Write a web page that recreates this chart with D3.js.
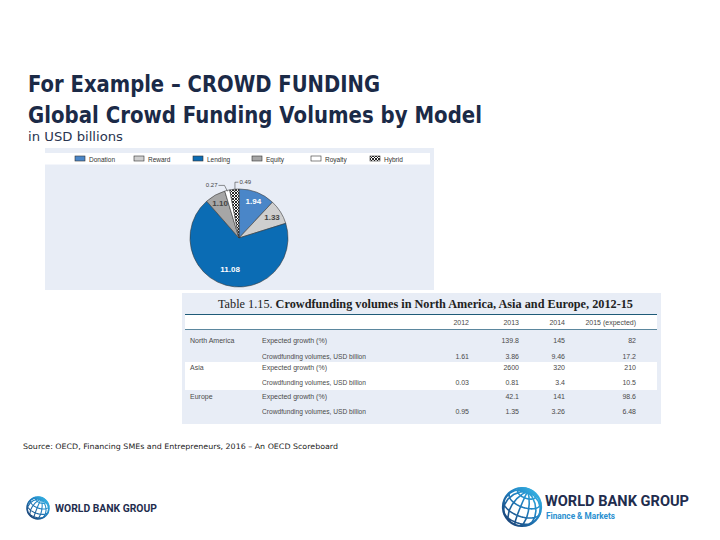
<!DOCTYPE html>
<html>
<head>
<meta charset="utf-8">
<script src="https://cdn.jsdelivr.net/npm/d3@7"></script>
<style>
  html, body { margin: 0; padding: 0; background: #ffffff; }
  svg { display: block; }
</style>
</head>
<body>
<svg id="chart" width="720" height="540"></svg>
<script>
// ---------- DATA ----------
const titleLines = ["For Example – CROWD FUNDING", "Global Crowd Funding Volumes by Model"];
const subtitle = "in USD billions";
const models = ["Donation", "Reward", "Lending", "Equity", "Royalty", "Hybrid"];
const modelVolumes = [1.94, 1.33, 11.08, 1.10, 0.27, 0.49];
const modelLabels = ["1.94", "1.33", "11.08", "1.10", "0.27", "0.49"];

const tableTitlePlain = "Table 1.15. ";
const tableTitleBold = "Crowdfunding volumes in North America, Asia and Europe, 2012-15";
const years = ["2012", "2013", "2014", "2015 (expected)"];
const regions = ["North America", "Asia", "Europe"];
const measures = ["Expected growth (%)", "Crowdfunding volumes, USD billion"];
const growthValues = [
  ["", "139.8", "145", "82"],
  ["", "2600", "320", "210"],
  ["", "42.1", "141", "98.6"]
];
const volumeValues = [
  ["1.61", "3.86", "9.46", "17.2"],
  ["0.03", "0.81", "3.4", "10.5"],
  ["0.95", "1.35", "3.26", "6.48"]
];
const sourceText = "Source: OECD, Financing SMEs and Entrepreneurs, 2016 – An OECD Scoreboard";

// ---------- STYLE ----------
const navy = "#1b2a47";
const sliceFill = {
  Donation: "#4a86c8", Reward: "#cfcfcf", Lending: "#0b6cb4",
  Equity: "#a6a6a6", Royalty: "#ffffff", Hybrid: "url(#hatch)"
};

const svg = d3.select("#chart");
const defs = svg.append("defs");

// crosshatch pattern
const pat = defs.append("pattern").attr("id", "hatch").attr("patternUnits", "userSpaceOnUse")
  .attr("width", 3).attr("height", 3);
pat.append("rect").attr("width", 3).attr("height", 3).attr("fill", "#fff");
pat.append("path").attr("d", "M0,0 L3,3 M3,0 L0,3").attr("stroke", "#111").attr("stroke-width", 0.9);

// globe gradient
const grad = defs.append("linearGradient").attr("id", "globeGrad")
  .attr("x1", "0%").attr("y1", "100%").attr("x2", "100%").attr("y2", "0%");
grad.append("stop").attr("offset", "0%").attr("stop-color", "#1b3768");
grad.append("stop").attr("offset", "55%").attr("stop-color", "#1f7fc0");
grad.append("stop").attr("offset", "100%").attr("stop-color", "#3cc0ec");

// ---------- TITLES ----------
svg.append("text").attr("x", 28).attr("y", 92)
  .attr("font-family", "DejaVu Sans").attr("font-weight", "bold").attr("font-size", 23)
  .attr("fill", navy).attr("textLength", 352).attr("lengthAdjust", "spacingAndGlyphs")
  .text(titleLines[0]);
svg.append("text").attr("x", 28).attr("y", 123)
  .attr("font-family", "DejaVu Sans").attr("font-weight", "bold").attr("font-size", 23)
  .attr("fill", navy).attr("textLength", 454).attr("lengthAdjust", "spacingAndGlyphs")
  .text(titleLines[1]);
svg.append("text").attr("x", 28).attr("y", 141)
  .attr("font-family", "DejaVu Sans").attr("font-size", 13)
  .attr("fill", "#2a3550").attr("textLength", 95).attr("lengthAdjust", "spacingAndGlyphs")
  .text(subtitle);

// ---------- PIE PANEL ----------
const pie = svg.append("g");
pie.append("rect").attr("x", 45).attr("y", 148).attr("width", 389).attr("height", 142).attr("fill", "#e8edf6");
pie.append("rect").attr("x", 45).attr("y", 153).attr("width", 385).attr("height", 11.5).attr("fill", "#ffffff");

// legend
const legendX = d3.scalePoint().domain(models).range([75, 370]);
const leg = pie.selectAll("g.leg").data(models).join("g").attr("class", "leg")
  .attr("transform", d => `translate(${legendX(d)},156)`);
leg.append("rect").attr("width", 10).attr("height", 5)
  .attr("fill", d => sliceFill[d]).attr("stroke", "#333").attr("stroke-width", 0.6);
leg.append("text").attr("x", 14).attr("y", 5.5)
  .attr("font-family", "Liberation Sans").attr("font-size", 6.5).attr("fill", "#333")
  .text(d => d);

// pie
const cx = 239, cy = 238, R = 49;
const pieGen = d3.pie().sort(null).value(d => d.v);
const pieData = pieGen(models.map((m, i) => ({ m, v: modelVolumes[i], label: modelLabels[i] })));
const arc = d3.arc().innerRadius(0).outerRadius(R);
const pg = pie.append("g").attr("transform", `translate(${cx},${cy})`);
pg.selectAll("path").data(pieData).join("path")
  .attr("d", arc)
  .attr("fill", d => sliceFill[d.data.m])
  .attr("stroke", "#3a3a3a").attr("stroke-width", 0.6);

const labelArc = d3.arc().innerRadius(39).outerRadius(39);
const inside = pieData.filter(d => ["Donation", "Reward", "Lending", "Equity"].includes(d.data.m));
pg.selectAll("text.in").data(inside).join("text").attr("class", "in")
  .attr("transform", d => {
    const c = labelArc.centroid(d);
    const k = d.data.m === "Lending" ? 0.85 : 1;
    return `translate(${c[0] * k},${c[1] * k + 2.5})`;
  })
  .attr("text-anchor", "middle")
  .attr("font-family", "Liberation Sans").attr("font-weight", "bold").attr("font-size", 8)
  .attr("fill", d => (d.data.m === "Donation" || d.data.m === "Lending") ? "#ffffff" : "#444")
  .text(d => d.data.label);

// leader labels for small slices
const edgeArc = d3.arc().innerRadius(R - 1).outerRadius(R - 1);
const roy = pieData.find(d => d.data.m === "Royalty");
const hyb = pieData.find(d => d.data.m === "Hybrid");
const pr = edgeArc.centroid(roy);
pg.append("path").attr("d", `M${pr[0]},${pr[1]} L${pr[0] - 3},${pr[1] - 6} L${pr[0] - 9},${pr[1] - 6}`)
  .attr("fill", "none").attr("stroke", "#444").attr("stroke-width", 0.6);
pg.append("text").attr("x", pr[0] - 10).attr("y", pr[1] - 4).attr("text-anchor", "end")
  .attr("font-family", "Liberation Sans").attr("font-size", 6).attr("fill", "#444").text(roy.data.label);
const ph = edgeArc.centroid(hyb);
pg.append("path").attr("d", `M${ph[0] + 0.5},${ph[1] + 2} L${ph[0] + 0.5},${ph[1] - 8} L${ph[0] + 4},${ph[1] - 8}`)
  .attr("fill", "none").attr("stroke", "#444").attr("stroke-width", 0.6);
pg.append("text").attr("x", ph[0] + 5).attr("y", ph[1] - 6)
  .attr("font-family", "Liberation Sans").attr("font-size", 6).attr("fill", "#444").text(hyb.data.label);

// ---------- TABLE PANEL ----------
const tb = svg.append("g");
tb.append("rect").attr("x", 182).attr("y", 293).attr("width", 479).attr("height", 131).attr("fill", "#e8edf6");
const tt = tb.append("text").attr("x", 218).attr("y", 308)
  .attr("font-family", "Liberation Serif").attr("font-size", 11.5).attr("fill", "#222")
  .attr("textLength", 415).attr("lengthAdjust", "spacingAndGlyphs");
tt.append("tspan").text(tableTitlePlain);
tt.append("tspan").attr("font-weight", "bold").text(tableTitleBold);
tb.append("rect").attr("x", 185).attr("y", 315).attr("width", 472).attr("height", 14).attr("fill", "#ffffff");
tb.append("line").attr("x1", 185).attr("x2", 657).attr("y1", 314.5).attr("y2", 314.5)
  .attr("stroke", "#1e5a78").attr("stroke-width", 1.2);
tb.append("line").attr("x1", 185).attr("x2", 657).attr("y1", 329.5).attr("y2", 329.5)
  .attr("stroke", "#1e5a78").attr("stroke-width", 0.7);

const colRight = d3.scaleOrdinal().domain(years).range([469, 519, 565, 636]);
const font = "Liberation Sans";
const tcol = "#4a4a4a";
tb.selectAll("text.hdr").data(years).join("text").attr("class", "hdr")
  .attr("x", d => colRight(d)).attr("y", 325).attr("text-anchor", "end")
  .attr("font-family", font).attr("font-size", 7).attr("fill", tcol).text(d => d);

// Asia white band
const rowBase = [343, 359, 370, 385, 399, 414];
tb.append("rect").attr("x", 185).attr("y", 362).attr("width", 472).attr("height", 28).attr("fill", "#ffffff");

regions.forEach((reg, ri) => {
  const yG = rowBase[ri * 2], yV = rowBase[ri * 2 + 1];
  tb.append("text").attr("x", 190).attr("y", yG).attr("font-family", font).attr("font-size", 7)
    .attr("fill", tcol).text(reg);
  tb.append("text").attr("x", 262).attr("y", yG).attr("font-family", font).attr("font-size", 7)
    .attr("fill", tcol).text(measures[0]);
  tb.append("text").attr("x", 262).attr("y", yV).attr("font-family", font).attr("font-size", 7)
    .attr("fill", tcol).attr("textLength", 104).attr("lengthAdjust", "spacingAndGlyphs").text(measures[1]);
  years.forEach((yr, ci) => {
    tb.append("text").attr("x", colRight(yr)).attr("y", yG).attr("text-anchor", "end")
      .attr("font-family", font).attr("font-size", 7).attr("fill", tcol).text(growthValues[ri][ci]);
    tb.append("text").attr("x", colRight(yr)).attr("y", yV).attr("text-anchor", "end")
      .attr("font-family", font).attr("font-size", 7).attr("fill", tcol).text(volumeValues[ri][ci]);
  });
});

// ---------- SOURCE ----------
svg.append("text").attr("x", 23).attr("y", 449)
  .attr("font-family", "DejaVu Sans").attr("font-size", 7.5).attr("fill", "#222")
  .attr("textLength", 315).attr("lengthAdjust", "spacingAndGlyphs")
  .text(sourceText);

// ---------- LOGOS ----------
function globe(x, y, r, sw) {
  const proj = d3.geoOrthographic().scale(r).translate([x, y]).rotate([25, -30, -20]).clipAngle(90);
  const path = d3.geoPath(proj);
  const g = svg.append("g");
  g.append("path").datum(d3.geoGraticule().step([30, 30])()).attr("d", path)
    .attr("fill", "none").attr("stroke", "url(#globeGrad)").attr("stroke-width", sw);
  g.append("circle").attr("cx", x).attr("cy", y).attr("r", r)
    .attr("fill", "none").attr("stroke", "url(#globeGrad)").attr("stroke-width", sw * 1.4);
}
globe(38, 508, 11, 1.1);
svg.append("text").attr("x", 55).attr("y", 512)
  .attr("font-family", "Roboto").attr("font-weight", "bold").attr("font-size", 10)
  .attr("fill", "#1f2d4e").attr("textLength", 102).attr("lengthAdjust", "spacingAndGlyphs")
  .text("WORLD BANK GROUP");

globe(522, 507, 19, 1.6);
svg.append("text").attr("x", 545).attr("y", 506)
  .attr("font-family", "Roboto").attr("font-weight", "bold").attr("font-size", 15)
  .attr("fill", "#1f2d4e").attr("textLength", 144).attr("lengthAdjust", "spacingAndGlyphs")
  .text("WORLD BANK GROUP");
svg.append("text").attr("x", 546).attr("y", 518.5)
  .attr("font-family", "Roboto").attr("font-weight", "bold").attr("font-size", 9.5)
  .attr("fill", "#2a8fd0").attr("textLength", 69).attr("lengthAdjust", "spacingAndGlyphs")
  .text("Finance & Markets");
</script>
</body>
</html>
